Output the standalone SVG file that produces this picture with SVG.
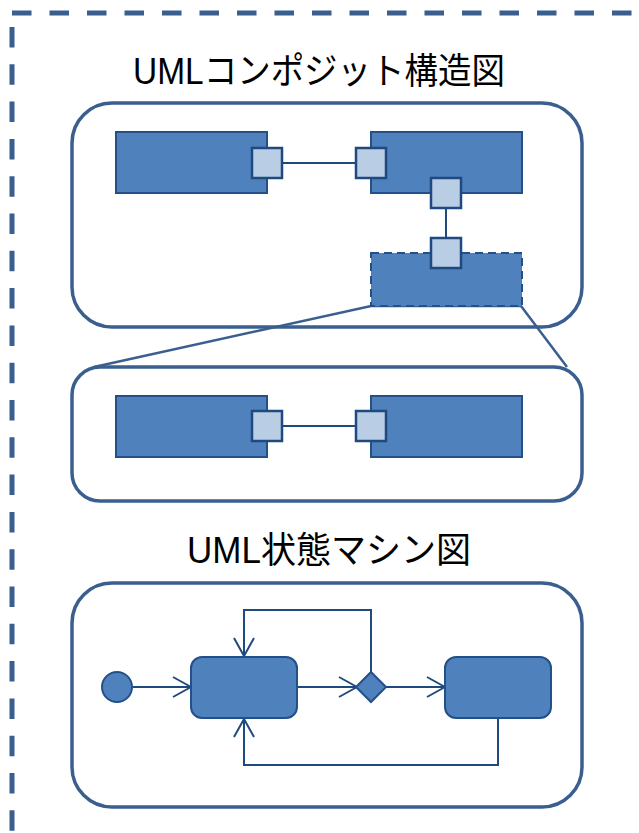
<svg xmlns="http://www.w3.org/2000/svg" width="639" height="833" viewBox="0 0 639 833">
<style>
.frame{fill:none;stroke:#3A5F8F;stroke-width:5}
.box{fill:#fff;stroke:#3A5F8F;stroke-width:3.5}
.blk{fill:#4F81BD;stroke:#24508A;stroke-width:2}
.port{fill:#B9CDE5;stroke:#1F4A80;stroke-width:2.5}
.con{fill:none;stroke:#1F4A7E;stroke-width:2}
.zoom{fill:none;stroke:#3A5F8F;stroke-width:2.5}
.title{font-family:"Liberation Sans","Noto Sans CJK JP",sans-serif;font-size:36px;fill:#000}
</style>
<defs>
<marker id="arr" viewBox="0 0 20 22" refX="19" refY="11" markerWidth="20" markerHeight="22" markerUnits="userSpaceOnUse" orient="auto">
<path d="M1,1 L19,11 L1,21" fill="none" stroke="#1F4A7E" stroke-width="2"/>
</marker>
</defs>
<rect width="639" height="833" fill="#fff"/>
<g id="frame">
<path class="frame" d="M12,13 H639" stroke-dasharray="19.5 18"/>
<path class="frame" d="M12,27 V833" stroke-dasharray="20.5 16.8"/>
</g>
<text class="title" x="133" y="84" textLength="372" lengthAdjust="spacingAndGlyphs">UMLコンポジット構造図</text>
<text class="title" x="187" y="563" textLength="284" lengthAdjust="spacingAndGlyphs">UML状態マシン図</text>
<g id="composite-box"><rect class="box" x="72" y="103" width="510" height="224" rx="40"/></g>
<g id="detail-box"><rect class="box" x="72" y="367" width="510" height="134" rx="28"/></g>
<g id="state-box"><rect class="box" x="72" y="583" width="510" height="224" rx="40"/></g>
<g id="connectors">
<path class="zoom" d="M94,367 L371,306 L521,306 L567,367"/>
<path class="con" d="M282,163 H356"/>
<path class="con" d="M446,208 V238"/>
<path class="con" d="M282,426 H356"/>
<path class="con" d="M133,687 H191" marker-end="url(#arr)"/>
<path class="con" d="M297,687 H357" marker-end="url(#arr)"/>
<path class="con" d="M386,687 H445" marker-end="url(#arr)"/>
<path class="con" d="M371,672 V610 H244 V656" marker-end="url(#arr)"/>
<path class="con" d="M498,718 V765 H244 V719" marker-end="url(#arr)"/>
</g>
<g id="part-a"><rect class="blk" x="116" y="132" width="151" height="61"/><rect class="port" x="252" y="148" width="30" height="30"/></g>
<g id="part-b"><rect class="blk" x="371" y="132" width="151" height="61"/><rect class="port" x="356" y="148" width="30" height="30"/><rect class="port" x="431" y="178" width="30" height="30"/></g>
<g id="part-c"><rect class="blk" x="371" y="253" width="151" height="53" stroke-dasharray="8 5"/><rect class="port" x="431" y="238" width="30" height="30"/></g>
<g id="detail-a"><rect class="blk" x="116" y="396" width="151" height="61"/><rect class="port" x="252" y="411" width="30" height="30"/></g>
<g id="detail-b"><rect class="blk" x="371" y="396" width="151" height="61"/><rect class="port" x="356" y="411" width="30" height="30"/></g>
<g id="initial"><circle class="blk" cx="117" cy="687" r="15"/></g>
<g id="state1"><rect class="blk" x="191" y="657" width="106" height="61" rx="11"/></g>
<g id="decision"><path class="blk" d="M371,672 L386,687 L371,702 L356,687 Z"/></g>
<g id="state2"><rect class="blk" x="445" y="657" width="106" height="61" rx="11"/></g>
</svg>
